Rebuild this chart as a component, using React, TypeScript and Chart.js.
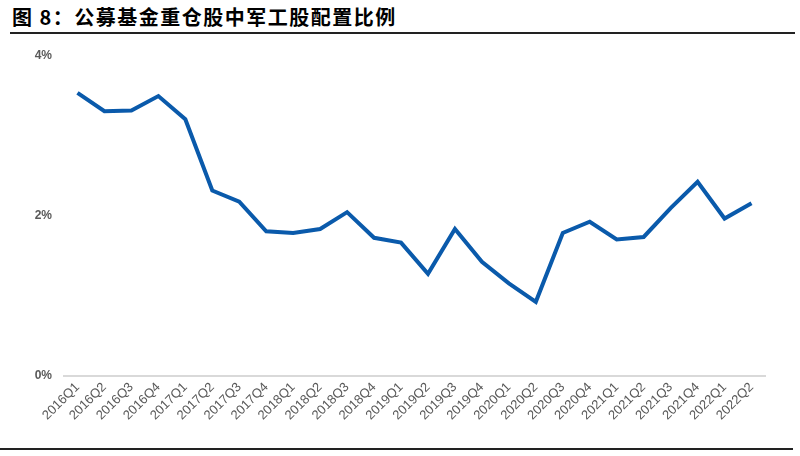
import React, { useEffect, useRef } from "react";
import { Chart, registerables } from "chart.js";

Chart.register(...registerables);

const categories = [
  "2016Q1", "2016Q2", "2016Q3", "2016Q4",
  "2017Q1", "2017Q2", "2017Q3", "2017Q4",
  "2018Q1", "2018Q2", "2018Q3", "2018Q4",
  "2019Q1", "2019Q2", "2019Q3", "2019Q4",
  "2020Q1", "2020Q2", "2020Q3", "2020Q4",
  "2021Q1", "2021Q2", "2021Q3", "2021Q4",
  "2022Q1", "2022Q2",
];

const allocation = [
  3.53, 3.30, 3.31, 3.49,
  3.20, 2.31, 2.17, 1.80,
  1.78, 1.83, 2.04, 1.72,
  1.66, 1.27, 1.83, 1.42,
  1.15, 0.92, 1.78, 1.92,
  1.70, 1.73, 2.09, 2.42,
  1.96, 2.15,
];

const yTicks = [0, 2, 4];

const titleText = "图 8：公募基金重仓股中军工股配置比例";

export default function App() {
  const ref = useRef<HTMLCanvasElement | null>(null);

  useEffect(() => {
    if (!ref.current) return;
    const chart = new Chart(ref.current, {
      type: "line",
      data: {
        labels: categories,
        datasets: [
          {
            data: allocation,
            borderColor: "#0a5aab",
            borderWidth: 4,
            pointRadius: 0,
            tension: 0,
            fill: false,
          },
        ],
      },
      options: {
        animation: false,
        responsive: false,
        maintainAspectRatio: false,
        layout: { padding: { top: 19, right: 35, left: 0, bottom: 0 } },
        plugins: {
          legend: { display: false },
          tooltip: { enabled: false },
        },
        scales: {
          x: {
            offset: true,
            grid: { display: false, drawTicks: false },
            border: { display: true, color: "#d9d9d9", width: 2 },
            ticks: {
              color: "#595959",
              font: { family: "Liberation Sans, Arial", size: 13 },
              maxRotation: 45,
              minRotation: 45,
              autoSkip: false,
              padding: 4,
            },
            afterFit: (s: any) => {
              s.height = 70.5;
            },
          },
          y: {
            min: 0,
            max: 4,
            afterBuildTicks: (s: any) => {
              s.ticks = yTicks.map((v) => ({ value: v }));
            },
            grid: { display: false, drawTicks: false },
            border: { display: false },
            ticks: {
              color: "#595959",
              font: { family: "Liberation Sans, Arial", size: 12, weight: "bold" },
              padding: 12,
              callback: (v: any) => `${v}%`,
            },
            afterFit: (s: any) => {
              s.width = 64;
            },
          },
        },
      },
    });
    return () => chart.destroy();
  }, []);

  return (
    <div
      style={{
        position: "absolute",
        left: 0,
        top: 0,
        width: 800,
        height: 456,
        background: "#ffffff",
        overflow: "hidden",
      }}
    >
      <div
        style={{
          position: "absolute",
          left: 12,
          top: 4,
          fontFamily: "'Noto Sans CJK SC', sans-serif",
          fontWeight: 700,
          fontSize: 20,
          letterSpacing: 1.5,
          lineHeight: "26px",
          color: "#000",
          whiteSpace: "nowrap",
        }}
      >
        {titleText}
      </div>
      <div
        style={{
          position: "absolute",
          left: 10,
          top: 32,
          width: 785,
          height: 2,
          background: "#222",
        }}
      />
      <canvas
        ref={ref}
        width={800}
        height={410}
        style={{ position: "absolute", left: 0, top: 36, width: 800, height: 410 }}
      />
      <div
        style={{
          position: "absolute",
          left: 0,
          top: 448,
          width: 793,
          height: 2,
          background: "#222",
        }}
      />
    </div>
  );
}
